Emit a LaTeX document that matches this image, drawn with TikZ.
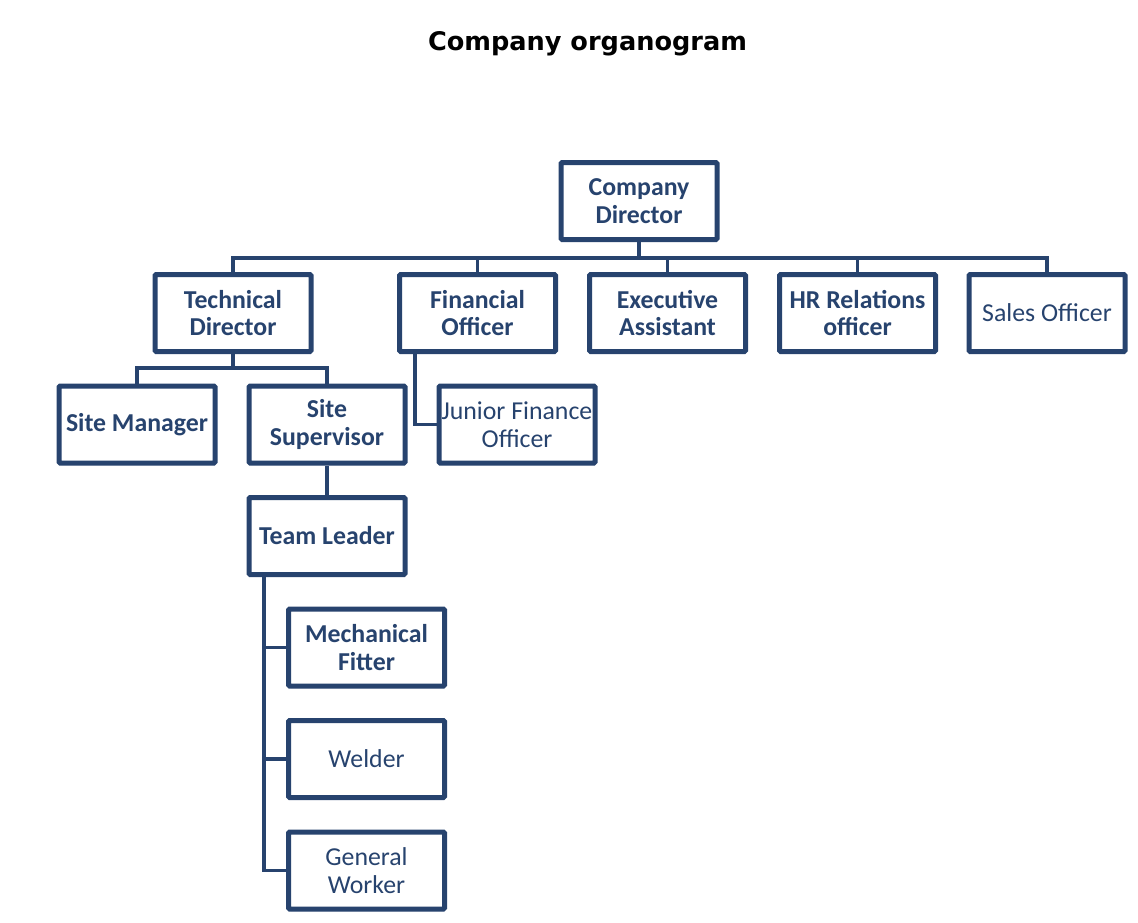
\documentclass[tikz,border=0pt]{standalone}
\usepackage{fontspec}
\setmainfont{Carlito}
\newfontfamily\titlefont{DejaVu Sans}
\usetikzlibrary{shadows}
\definecolor{navy}{HTML}{27436E}
\tikzset{
  box/.style={draw=navy, line width=5pt, fill=white, rounded corners=1.2pt,
    minimum width=156pt, minimum height=77pt, inner sep=0pt, align=center,
    text=navy, font=\fontsize{25.8}{27.5}\selectfont\bfseries,
    drop shadow={opacity=0.25, shadow xshift=1.2pt, shadow yshift=-2pt, fill=black}},
  plain/.style={font=\fontsize{25.8}{27.5}\selectfont},
  conn/.style={draw=navy, line width=3.5pt}
}
\begin{document}
\begin{tikzpicture}[x=1pt,y=-1pt]
\useasboundingbox (0,0) rectangle (1138,922);
\node[font=\titlefont\fontsize{25.6}{30}\selectfont\bfseries] (title) at (587.5,44) {Company organogram};
\coordinate (b1) at (0,258);
\coordinate (b2) at (0,368);
\coordinate (f1) at (415,0);
\coordinate (t1) at (264,0);
% nodes
\node[box] (CD) at (639,201) {Company\\Director};
\node[box] (TD) at (233,313) {Technical\\Director};
\node[box] (FO) at (477.5,313) {Financial\\Officer};
\node[box] (EA) at (667.5,313) {Executive\\Assistant};
\node[box] (HR) at (857.5,313) {HR Relations\\officer};
\node[box,plain] (SO) at (1047,313) {Sales Officer};
\node[box] (SM) at (137,424.5) {Site Manager};
\node[box] (SS) at (327,424.5) {Site\\Supervisor};
\node[box,plain] (JF) at (517,424.5) {Junior Finance\\Officer};
\node[box] (TL) at (327,536) {Team Leader};
\node[box] (MF) at (366.5,647.5) {Mechanical\\Fitter};
\node[box,plain] (WE) at (366.5,759) {Welder};
\node[box,plain] (GW) at (366.5,870.5) {General\\Worker};
% connectors
\draw[conn] (CD.south) -- (CD.south |- b1) -| (TD.north);
\draw[conn] (CD.south |- b1) -| (FO.north);
\draw[conn] (CD.south |- b1) -| (EA.north);
\draw[conn] (CD.south |- b1) -| (HR.north);
\draw[conn] (CD.south |- b1) -| (SO.north);
\draw[conn] (TD.south) -- (TD.south |- b2) -| (SM.north);
\draw[conn] (TD.south |- b2) -| (SS.north);
\draw[conn] (FO.south -| f1) |- (JF.west);
\draw[conn] (SS.south) -- (TL.north);
\draw[conn] (TL.south -| t1) |- (MF.west);
\draw[conn] (TL.south -| t1) |- (WE.west);
\draw[conn] (TL.south -| t1) |- (GW.west);
\end{tikzpicture}
\end{document}
